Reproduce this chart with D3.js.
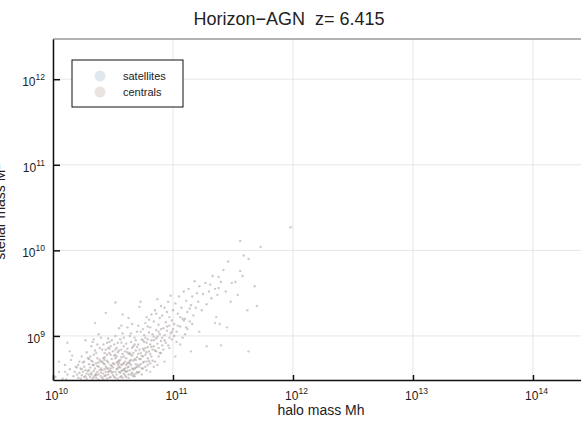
<!DOCTYPE html>
<html>
<head>
<meta charset="utf-8">
<script src="https://cdn.jsdelivr.net/npm/d3@7"></script>
<style>
  body { margin: 0; background: #fff; }
  text { font-family: "Liberation Sans", Arial, sans-serif; fill: #222; }
</style>
</head>
<body>
<svg id="chart" width="581" height="421"></svg>
<script>
// log10 halo mass / log10 stellar mass
var satMh = [10.05,10.10,10.14,10.20,10.24,10.27,10.30,10.33,10.36,10.38,10.40,10.43,10.45,10.47,10.50,10.52,
  10.54,10.57,10.60,10.62,10.64,10.67,10.70,10.72,10.75,10.78,10.81,10.84,10.87,10.90,10.93,10.97,11.02,11.06,
  11.10,11.15,11.22,11.28,11.35,11.40,11.45,11.62,11.70,10.35,10.58,10.12,11.39,11.63];
var satMs = [8.70,8.58,8.82,8.63,8.76,8.95,8.60,8.70,8.80,9.02,8.57,8.72,8.62,8.85,8.58,8.78,
  8.66,8.92,8.59,8.81,8.68,8.55,8.87,8.64,8.95,8.70,8.58,8.99,8.66,8.80,8.70,8.86,8.76,8.90,
  9.20,8.82,9.05,8.88,9.15,8.89,9.10,9.30,9.35,9.15,9.25,8.92,9.14,8.82];

var cenMh = [
  10.02,10.05,10.08,10.10,10.12,10.14,10.15,10.17,10.18,10.19,10.11,10.16,
  10.21,10.22,10.23,10.24,10.25,10.26,10.27,10.28,10.29,10.21,10.23,10.25,10.26,10.27,10.28,10.29,10.22,10.24,10.30,10.30,
  10.31,10.31,10.32,10.32,10.33,10.33,10.34,10.34,10.35,10.35,10.36,10.36,10.37,10.37,10.38,10.38,10.39,10.39,10.40,10.40,10.33,10.36,10.38,10.31,10.35,10.37,10.34,10.39,
  10.41,10.41,10.42,10.42,10.43,10.43,10.44,10.44,10.45,10.45,10.46,10.46,10.47,10.47,10.48,10.48,10.49,10.49,10.50,10.50,10.42,10.44,10.46,10.48,10.41,10.43,10.45,10.47,10.49,10.50,10.44,10.42,10.46,10.48,10.43,10.47,
  10.51,10.51,10.52,10.52,10.53,10.53,10.54,10.54,10.55,10.55,10.56,10.56,10.57,10.57,10.58,10.58,10.59,10.59,10.60,10.60,10.52,10.54,10.56,10.58,10.51,10.53,10.55,10.57,10.59,10.60,10.52,10.55,10.57,10.53,10.56,10.58,10.54,10.59,
  10.61,10.61,10.62,10.62,10.63,10.63,10.64,10.64,10.65,10.65,10.66,10.66,10.67,10.67,10.68,10.68,10.69,10.69,10.70,10.70,10.62,10.64,10.66,10.68,10.61,10.63,10.65,10.67,10.69,10.70,10.63,10.66,10.68,10.62,10.65,10.69,
  10.71,10.71,10.72,10.72,10.73,10.73,10.74,10.74,10.75,10.75,10.76,10.76,10.77,10.77,10.78,10.78,10.79,10.79,10.80,10.80,10.72,10.74,10.76,10.78,10.73,10.75,10.77,10.79,10.71,10.80,
  10.81,10.81,10.82,10.82,10.83,10.83,10.84,10.84,10.85,10.85,10.86,10.86,10.87,10.87,10.88,10.88,10.89,10.89,10.90,10.90,10.84,10.86,10.88,10.82,
  10.91,10.91,10.92,10.92,10.93,10.93,10.94,10.94,10.95,10.95,10.96,10.96,10.97,10.97,10.98,10.98,10.99,10.99,11.00,11.00,
  11.01,11.02,11.03,11.04,11.05,11.06,11.07,11.08,11.09,11.10,11.11,11.12,11.13,11.14,11.15,11.16,11.17,11.18,11.19,11.20,11.03,11.08,11.12,11.16,
  11.21,11.22,11.24,11.25,11.27,11.28,11.30,11.31,11.32,11.33,11.35,11.36,11.37,11.38,11.38,11.40,
  11.42,11.44,11.46,11.48,11.49,11.52,11.54,11.56,11.58,11.59,
  11.63,11.68,11.73,11.56,11.98,
  10.32,10.34,10.37,10.40,10.41,10.43,10.45,10.46,10.48,10.49,
  10.51,10.52,10.54,10.55,10.56,10.57,10.58,10.59,10.60,10.61,
  10.62,10.63,10.64,10.65,10.66,10.67,10.68,10.69,10.70,10.71,
  10.72,10.73,10.74,10.75,10.76,10.77,10.78,10.79,10.80,10.81,
  10.82,10.83,10.84,10.85,10.86,10.87,10.88,10.89,10.90,10.91,
  10.44,10.46,10.48,10.50,10.52,10.53,10.55,10.57,10.59,10.61,
  10.63,10.65,10.67,10.69,10.71,10.73,10.75,10.77,10.79,10.81,
  10.36,10.38,10.40,10.42,10.26,10.28,10.30,10.32,10.34,10.20,
  10.93,10.95,10.97,10.99,11.01,11.04,11.06,11.09,11.11,11.14];
var cenMs = [
  8.52,8.58,8.50,8.66,8.55,8.61,8.72,8.53,8.58,8.64,8.49,8.77,
  8.51,8.57,8.62,8.54,8.69,8.52,8.60,8.56,8.74,8.66,8.50,8.58,8.64,8.53,8.81,8.59,8.70,8.61,8.55,8.67,
  8.52,8.63,8.57,8.71,8.50,8.66,8.59,8.78,8.54,8.62,8.68,8.51,8.58,8.74,8.55,8.64,8.60,8.86,8.53,8.70,8.93,8.56,8.49,8.76,8.83,8.65,8.52,8.72,
  8.51,8.60,8.56,8.68,8.53,8.75,8.58,8.64,8.50,8.71,8.55,8.62,8.59,8.80,8.52,8.66,8.57,8.73,8.54,8.63,8.90,8.84,8.97,8.88,8.70,8.61,8.78,8.51,8.65,8.82,9.27,8.49,8.69,8.59,8.67,8.93,
  8.52,8.67,8.58,8.74,8.55,8.61,8.70,8.50,8.64,8.83,8.57,8.72,8.53,8.66,8.60,8.79,8.56,8.88,8.62,8.70,9.00,8.92,8.96,9.03,8.77,8.86,8.58,8.75,8.68,8.54,9.39,9.09,9.12,8.69,8.63,8.51,8.81,8.98,
  8.58,8.74,8.63,8.85,8.55,8.69,8.80,8.60,8.66,8.93,8.57,8.77,8.71,8.88,8.62,8.98,8.67,8.83,8.75,9.05,9.10,9.00,9.14,8.53,8.91,8.79,8.72,8.61,8.95,8.64,9.21,8.86,8.73,8.68,9.03,8.56,
  8.66,8.90,8.73,9.34,8.80,9.40,8.62,8.96,8.85,9.08,8.70,9.01,8.78,9.15,8.92,8.60,8.87,9.11,8.82,9.04,8.58,8.77,8.93,9.22,9.05,8.69,8.98,8.74,9.12,9.19,
  8.79,9.10,8.95,9.25,8.71,9.02,8.88,9.17,8.83,9.30,8.97,9.07,9.43,8.91,9.13,8.76,9.02,9.21,8.94,9.35,8.64,9.26,9.05,8.87,
  8.98,9.24,9.09,8.84,9.33,9.01,9.16,8.92,9.28,9.06,9.40,8.89,9.12,9.22,9.03,9.47,9.18,8.96,9.30,9.08,
  9.14,9.38,9.05,9.26,9.46,9.11,9.33,9.20,9.52,9.02,9.41,9.28,9.55,9.17,9.36,9.46,9.24,9.64,9.33,9.50,8.93,8.98,9.08,9.14,
  9.40,9.58,9.30,9.49,9.62,9.37,9.52,9.60,9.44,9.70,9.55,9.22,9.48,9.69,9.56,9.63,
  9.77,9.52,9.87,9.40,9.62,9.63,9.48,9.76,9.70,9.94,
  9.90,9.58,10.04,10.11,10.27,
  8.88,8.96,8.90,8.98,8.84,8.80,8.92,8.86,8.78,8.95,
  8.90,8.84,8.62,8.71,8.52,8.59,8.67,8.76,8.82,8.52,
  8.59,8.64,8.71,8.55,8.62,8.80,8.90,8.72,8.58,8.79,
  8.84,8.67,8.55,8.76,8.83,8.64,8.81,8.96,8.71,8.90,
  8.76,8.84,8.95,8.70,8.82,8.99,8.86,8.80,9.08,8.89,
  8.54,8.58,8.62,8.68,8.51,8.76,8.68,8.84,8.61,8.66,
  8.51,8.78,8.53,8.63,8.57,8.73,8.62,8.86,8.66,8.68,
  8.54,8.69,8.62,8.74,8.70,8.50,8.73,8.55,8.66,8.55,
  8.95,9.11,8.98,9.05,9.00,9.12,9.22,9.18,9.10,9.32];

var xTicks = [10, 11, 12, 13, 14];
var yTicks = [9, 10, 11, 12];
var legendLabels = ["satellites", "centrals"];

var svg = d3.select("#chart");
var pLeft = 53, pRight = 589, pTop = 39, pBottom = 380;

var x = d3.scaleLog().domain([1e10, Math.pow(10, 14.467)]).range([pLeft, pRight]);
var y = d3.scaleLog().domain([Math.pow(10, 8.485), Math.pow(10, 12.47)]).range([pBottom, pTop]);

svg.append("clipPath").attr("id", "clip")
  .append("rect").attr("x", pLeft).attr("y", pTop).attr("width", pRight - pLeft).attr("height", pBottom - pTop);

// grid
var grid = svg.append("g");
grid.selectAll(".gx").data(xTicks).enter().append("line")
  .attr("x1", function (d) { return x(Math.pow(10, d)); })
  .attr("x2", function (d) { return x(Math.pow(10, d)); })
  .attr("y1", pTop).attr("y2", pBottom)
  .attr("stroke", "#e6e6e6").attr("stroke-width", 1);
grid.selectAll(".gy").data(yTicks).enter().append("line")
  .attr("y1", function (d) { return y(Math.pow(10, d)); })
  .attr("y2", function (d) { return y(Math.pow(10, d)); })
  .attr("x1", pLeft).attr("x2", pRight)
  .attr("stroke", "#e6e6e6").attr("stroke-width", 1);

// points
var pts = svg.append("g").attr("clip-path", "url(#clip)");
pts.selectAll(".sat").data(satMh).enter().append("circle")
  .attr("cx", function (d) { return x(Math.pow(10, d)); })
  .attr("cy", function (d, i) { return y(Math.pow(10, satMs[i])); })
  .attr("r", 1.2)
  .attr("fill", "#8a97a6").attr("fill-opacity", 0.45);
pts.selectAll(".cen").data(cenMh).enter().append("circle")
  .attr("cx", function (d) { return x(Math.pow(10, d)); })
  .attr("cy", function (d, i) { return y(Math.pow(10, cenMs[i])); })
  .attr("r", 1.2)
  .attr("fill", "#968884").attr("fill-opacity", 0.45);

// top border
svg.append("line").attr("x1", pLeft).attr("x2", 581).attr("y1", pTop).attr("y2", pTop)
  .attr("stroke", "#9a9a9a").attr("stroke-width", 1.5);

// axes
var xAxis = d3.axisBottom(x).tickValues(xTicks.map(function (d) { return Math.pow(10, d); }))
  .tickSizeInner(-5).tickSizeOuter(0).tickPadding(12);
var yAxis = d3.axisLeft(y).tickValues(yTicks.map(function (d) { return Math.pow(10, d); }))
  .tickSizeInner(-7).tickSizeOuter(0).tickPadding(10);

var gx = svg.append("g").attr("transform", "translate(0," + pBottom + ")").call(xAxis);
var gy = svg.append("g").attr("transform", "translate(" + pLeft + ",0)").call(yAxis);

[gx, gy].forEach(function (g) {
  g.select(".domain").attr("stroke", "#111").attr("stroke-width", 1.5);
  g.selectAll(".tick line").attr("stroke", "#111").attr("stroke-width", 1.5);
});

function supLabel(sel) {
  sel.each(function (d) {
    var t = d3.select(this);
    var e = Math.round(Math.log10(d));
    t.text(null).attr("font-size", 12).attr("fill", "#333");
    t.append("tspan").text("10");
    t.append("tspan").text(e).attr("font-size", 8.5).attr("dy", -6);
  });
}
gx.selectAll(".tick text").call(supLabel).attr("y", 20).attr("dy", 0).attr("dx", 3);
gy.selectAll(".tick text").call(supLabel).attr("x", -8).attr("dy", "0.55em");

// titles
svg.append("text").attr("x", 289).attr("y", 25).attr("text-anchor", "middle")
  .attr("font-size", 18).text("Horizon\u2212AGN \u00a0z= 6.415");
svg.append("text").attr("x", 321).attr("y", 415).attr("text-anchor", "middle")
  .attr("font-size", 14).text("halo mass Mh");
svg.append("text").attr("transform", "translate(5,212) rotate(-90)").attr("text-anchor", "middle")
  .attr("font-size", 14).text("stellar mass M*");

// legend
var lg = svg.append("g");
lg.append("rect").attr("x", 72).attr("y", 60).attr("width", 111).attr("height", 47)
  .attr("fill", "#fff").attr("stroke", "#111").attr("stroke-width", 1);
var legendFill = ["#dfe7ef", "#ebe3e0"];
legendLabels.forEach(function (name, i) {
  lg.append("circle").attr("cx", 100).attr("cy", 76 + i * 16).attr("r", 5.5).attr("fill", legendFill[i]);
  lg.append("text").attr("x", 123).attr("y", 80 + i * 16).attr("font-size", 11).text(name);
});
</script>
</body>
</html>
